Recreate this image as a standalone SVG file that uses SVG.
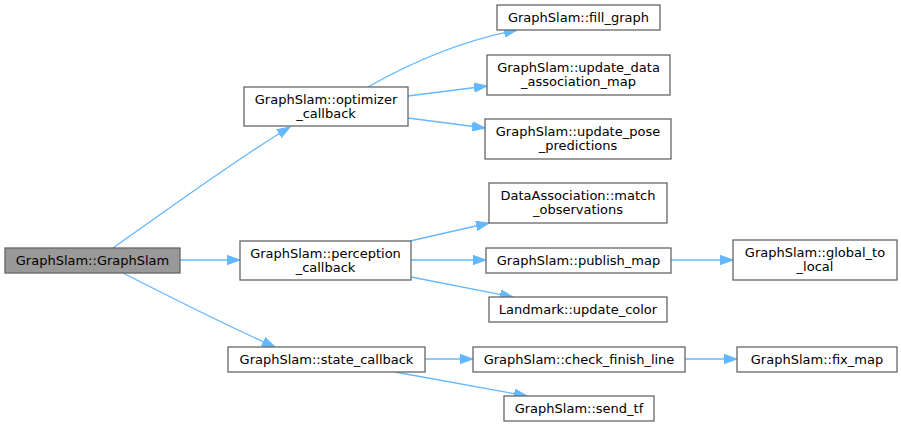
<svg xmlns="http://www.w3.org/2000/svg" width="901" height="427" viewBox="0 0 901 427">
<style>
.n rect{fill:#ffffff;stroke:#666666;stroke-width:1.3}
.n.root rect{fill:#999999}
.n text{font-family:"DejaVu Sans",sans-serif;font-size:13px;fill:#000000;text-anchor:middle}
.e path{fill:none;stroke:#63b8ff;stroke-width:1.3}
</style>
<defs>
<marker id="ah" markerUnits="userSpaceOnUse" markerWidth="14" markerHeight="10" refX="13" refY="5" orient="auto">
<polygon points="0,0.3 13,5 0,9.7" fill="#63b8ff" stroke="#63b8ff" stroke-width="1"/>
</marker>
</defs>
<rect width="901" height="427" fill="#ffffff"/>
<g id="edges" class="e">
<path d="M113,248 C170,208 235,160 290,127" marker-end="url(#ah)"/>
<path d="M180,260 L240,260" marker-end="url(#ah)"/>
<path d="M123,273 C170,297 230,327 275,347" marker-end="url(#ah)"/>
<path d="M368,87 C405,66 455,42 517,30" marker-end="url(#ah)"/>
<path d="M408,96 L487,86" marker-end="url(#ah)"/>
<path d="M408,118 L485,128" marker-end="url(#ah)"/>
<path d="M410,241 L489,223" marker-end="url(#ah)"/>
<path d="M411,260 L486,260" marker-end="url(#ah)"/>
<path d="M411,277 L513,297" marker-end="url(#ah)"/>
<path d="M671,260 L733,260" marker-end="url(#ah)"/>
<path d="M425,359 L473,359" marker-end="url(#ah)"/>
<path d="M395,372 L527,396" marker-end="url(#ah)"/>
<path d="M685,359 L737,359" marker-end="url(#ah)"/>
</g>
<g id="n1" class="n root"><rect x="5" y="248" width="175" height="25"/><text x="92.5" y="265">GraphSlam::GraphSlam</text></g>
<g id="n2" class="n"><rect x="244" y="87" width="164" height="39"/><text x="326" y="103.5">GraphSlam::optimizer</text><text x="326" y="118">_callback</text></g>
<g id="n3" class="n"><rect x="497" y="5" width="163" height="25"/><text x="578.5" y="22">GraphSlam::fill_graph</text></g>
<g id="n4" class="n"><rect x="487" y="55" width="183" height="40"/><text x="578.5" y="71.5">GraphSlam::update_data</text><text x="578.5" y="86">_association_map</text></g>
<g id="n5" class="n"><rect x="485" y="119" width="186" height="40"/><text x="578" y="135.5">GraphSlam::update_pose</text><text x="578" y="150">_predictions</text></g>
<g id="n6" class="n"><rect x="489" y="183" width="178" height="40"/><text x="578" y="199.5">DataAssociation::match</text><text x="578" y="214">_observations</text></g>
<g id="n7" class="n"><rect x="240" y="241" width="171" height="39"/><text x="325.5" y="257.5">GraphSlam::perception</text><text x="325.5" y="272">_callback</text></g>
<g id="n8" class="n"><rect x="486" y="248" width="185" height="25"/><text x="578.5" y="265">GraphSlam::publish_map</text></g>
<g id="n9" class="n"><rect x="489" y="297" width="178" height="25"/><text x="578" y="314">Landmark::update_color</text></g>
<g id="n10" class="n"><rect x="733" y="240" width="164" height="40"/><text x="815" y="256.5">GraphSlam::global_to</text><text x="815" y="271">_local</text></g>
<g id="n11" class="n"><rect x="228" y="347" width="197" height="25"/><text x="326.5" y="364">GraphSlam::state_callback</text></g>
<g id="n12" class="n"><rect x="473" y="347" width="212" height="25"/><text x="579" y="364">GraphSlam::check_finish_line</text></g>
<g id="n13" class="n"><rect x="737" y="347" width="160" height="25"/><text x="817" y="364">GraphSlam::fix_map</text></g>
<g id="n14" class="n"><rect x="504" y="396" width="150" height="25"/><text x="579" y="413">GraphSlam::send_tf</text></g>
</svg>
